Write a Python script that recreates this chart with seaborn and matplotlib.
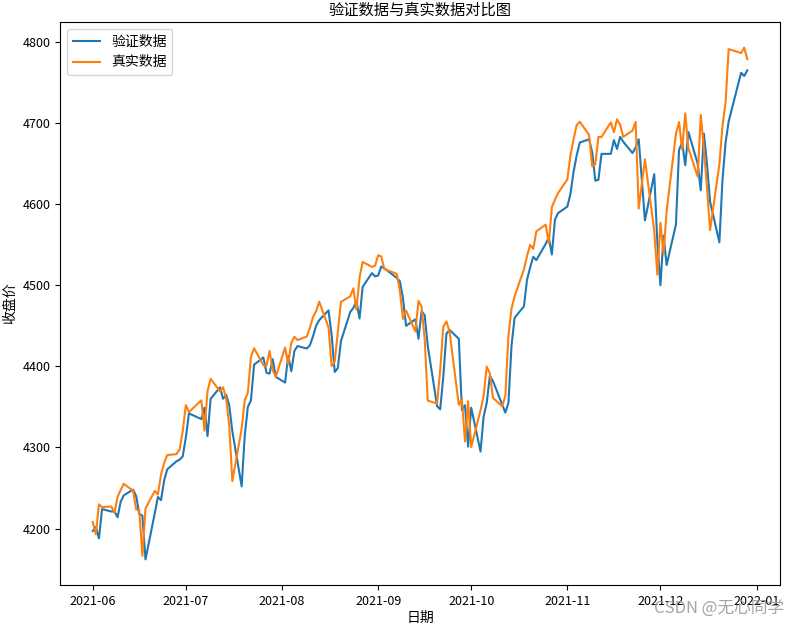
import matplotlib
matplotlib.use("Agg")
import matplotlib.pyplot as plt
import seaborn as sns
import pandas as pd

# trading dates 2021-06-01 .. 2021-12-29
holidays = ["2021-07-05", "2021-09-06", "2021-11-25", "2021-12-24"]
dates = pd.bdate_range("2021-06-01", "2021-12-29")
dates = dates[~dates.isin(pd.to_datetime(holidays))]

# 真实数据 (orange)
true_vals = [
    4208.12, 4192.85, 4229.89, 4226.52, 4227.26, 4219.55, 4239.18, 4247.44, 4255.15, 4246.59,
    4223.70, 4221.86, 4166.45, 4224.79, 4246.44, 4241.84, 4266.49, 4280.70, 4290.61, 4291.80,
    4297.50, 4319.94,
    4352.34, 4343.54, 4358.13, 4320.82, 4369.55, 4384.63, 4369.21, 4374.30, 4360.03, 4327.16,
    4258.49, 4323.06, 4358.69, 4367.48, 4411.79, 4422.30, 4401.46, 4400.64, 4419.15, 4395.26,
    4387.16,
    4423.15, 4402.66, 4429.10, 4436.52, 4432.35, 4436.75, 4447.70, 4460.83, 4468.00, 4479.71,
    4448.08, 4400.27, 4405.80, 4441.67, 4479.53, 4486.23, 4496.19, 4470.00, 4509.37, 4528.79,
    4522.68, 4524.09,
    4536.95, 4535.43, 4520.03, 4514.07, 4493.28, 4458.58, 4468.73, 4443.05, 4480.70, 4473.75,
    4432.99, 4357.73, 4354.19, 4395.64, 4448.98, 4455.48, 4443.11, 4352.63, 4359.46, 4307.54,
    4357.04,
    4300.46, 4345.72, 4363.55, 4399.76, 4391.34, 4361.19, 4350.65, 4363.80, 4438.26, 4471.37,
    4486.46, 4519.63, 4536.19, 4549.78, 4544.90, 4566.48, 4574.79, 4551.68, 4596.42, 4605.38,
    4613.67,
    4630.65, 4660.57, 4680.06, 4697.53, 4701.70, 4685.25, 4646.71, 4649.27, 4682.85, 4682.80,
    4700.90, 4688.67, 4704.54, 4697.96, 4682.94, 4690.70, 4701.46, 4594.62, 4655.27, 4567.00,
    4513.04,
    4577.10, 4538.43, 4591.67, 4686.75, 4701.21, 4667.45, 4712.02, 4668.97, 4634.09, 4709.85,
    4668.67, 4620.64, 4568.02, 4649.23, 4696.56, 4725.79, 4791.19, 4786.35, 4793.06, 4778.73,
]

# 验证数据 (blue)
pred_vals = [
    4197, 4202, 4188, 4224, 4221, 4221, 4214, 4233, 4241, 4248, 4240, 4218, 4216, 4162, 4219,
    4239, 4235, 4259, 4273, 4283, 4285, 4289,
    4312, 4342, 4335, 4349, 4314, 4360, 4374, 4360, 4365, 4352, 4320, 4252, 4315, 4350, 4358,
    4402, 4411, 4392, 4391, 4409, 4387,
    4380, 4413, 4394, 4419, 4425, 4422, 4426, 4437, 4450, 4457, 4469, 4439, 4393, 4398, 4431,
    4467, 4472, 4480, 4459, 4498, 4515, 4511,
    4512, 4523, 4521, 4509, 4505, 4484, 4450, 4458, 4434, 4468, 4463, 4425, 4351, 4347, 4387,
    4440, 4445, 4434, 4346, 4352, 4301,
    4349, 4295, 4338, 4355, 4388, 4382, 4353, 4343, 4355, 4426, 4460, 4474, 4507, 4522, 4535,
    4531, 4551, 4559, 4538, 4581, 4589,
    4597, 4613, 4640, 4660, 4676, 4680, 4664, 4629, 4630, 4662, 4662, 4679, 4668, 4683, 4677,
    4663, 4670, 4680, 4580, 4637, 4553,
    4500, 4561, 4525, 4575, 4667, 4676, 4648, 4689, 4650, 4617, 4687, 4650, 4603, 4553, 4630,
    4676, 4702, 4762, 4758, 4765,
]

plt.rcParams["font.family"] = ["Noto Sans CJK SC", "DejaVu Sans"]
plt.rcParams["axes.unicode_minus"] = False

fig = plt.figure(figsize=(7.94, 6.28), dpi=100)
ax = fig.add_axes([0.0756, 0.0685, 0.9068, 0.8965])

df = pd.DataFrame({"date": dates, "pred": pred_vals, "true": true_vals})
sns.lineplot(data=df, x="date", y="pred", ax=ax, color="#1f77b4", linewidth=1.5, label="验证数据")
sns.lineplot(data=df, x="date", y="true", ax=ax, color="#ff7f0e", linewidth=1.5, label="真实数据")

ax.set_title("验证数据与真实数据对比图", fontsize=11, pad=5)
ax.set_xlabel("日期", fontsize=10, labelpad=2)
ax.set_ylabel("收盘价", fontsize=10)
ax.tick_params(labelsize=9)
ax.legend(loc="upper left", fontsize=10)

fig.text(0.988, 0.018, "CSDN @无心同学", ha="right", va="bottom", fontsize=12,
         color="#9a9a9a", alpha=0.9)

fig.savefig("out.png", dpi=100)
